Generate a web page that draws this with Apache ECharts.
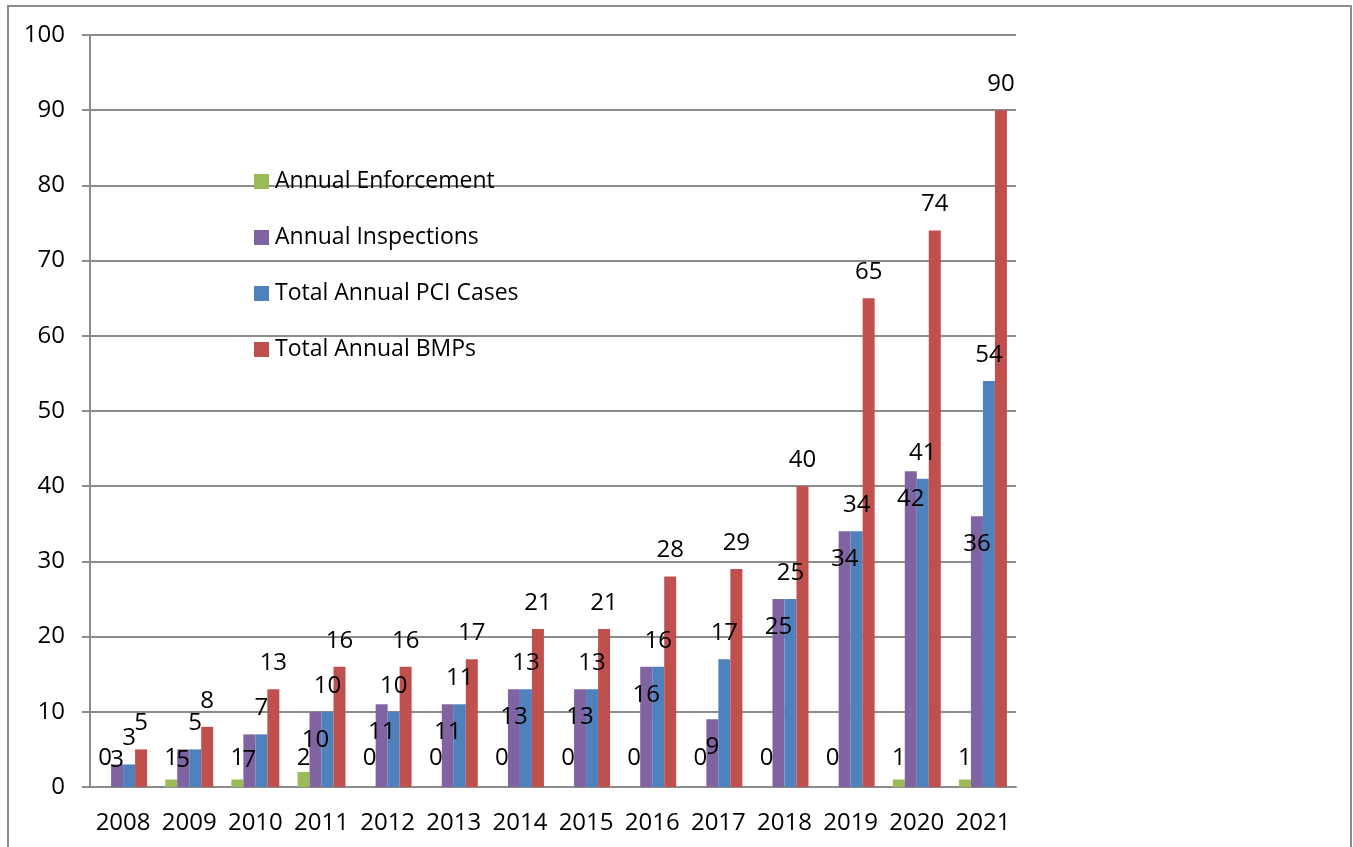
<!DOCTYPE html>
<html>
<head>
<meta charset="utf-8">
<script src="https://cdn.jsdelivr.net/npm/echarts@6/dist/echarts.min.js"></script>
<style>
  html, body { margin: 0; padding: 0; background: #fff; }
  #chart { width: 1353px; height: 847px; }
</style>
</head>
<body>
<div id="chart"></div>
<script>
// chart data
const years = ['2008', '2009', '2010', '2011', '2012', '2013', '2014', '2015', '2016', '2017', '2018', '2019', '2020', '2021'];
const enforcement = [0, 1, 1, 2, 0, 0, 0, 0, 0, 0, 0, 0, 1, 1];
const inspections = [3, 5, 7, 10, 11, 11, 13, 13, 16, 9, 25, 34, 42, 36];
const pciCases = [3, 5, 7, 10, 10, 11, 13, 13, 16, 17, 25, 34, 41, 54];
const bmps = [5, 8, 13, 16, 16, 17, 21, 21, 28, 29, 40, 65, 74, 90];
const yTicks = [0, 10, 20, 30, 40, 50, 60, 70, 80, 90, 100];

const chart = echarts.init(document.getElementById('chart'));

const FONT = 'Open Sans';
const labelBase = { show: true, color: '#000', fontFamily: FONT, fontSize: 24 };
const gray = '#8c8c8c';

// Excel-style label placement: inspection labels sit inside the bar top,
// short bars get them pushed up from the axis instead
const inspectionData = inspections.map(v => v <= 7
  ? { value: v, label: { position: 'insideBottom', distance: 15 } }
  : v);

const option = {
  backgroundColor: '#fff',
  animation: false,
  textStyle: { fontFamily: FONT },
  graphic: [{
    type: 'rect',
    shape: { x: 8, y: 6, width: 1343, height: 900 },
    style: { fill: 'none', stroke: gray, lineWidth: 2 }
  }],
  legend: {
    orient: 'vertical',
    left: 249,
    top: 165,
    itemWidth: 15,
    itemHeight: 15,
    itemGap: 33,
    icon: 'rect',
    textStyle: { fontFamily: FONT, fontSize: 23, color: '#000', padding: [0, 0, 0, 1] },
    data: ['Annual Enforcement', 'Annual Inspections', 'Total Annual PCI Cases', 'Total Annual BMPs']
  },
  grid: { left: 90, right: 337, top: 35, bottom: 60 },
  xAxis: {
    type: 'category',
    data: years,
    axisLine: { lineStyle: { color: gray, width: 2 } },
    axisTick: { length: 8, lineStyle: { color: gray, width: 2 } },
    axisLabel: { color: '#000', fontFamily: FONT, fontSize: 24, margin: 24, interval: 0 }
  },
  yAxis: {
    type: 'value',
    min: yTicks[0],
    max: yTicks[yTicks.length - 1],
    interval: 10,
    axisLine: { show: true, lineStyle: { color: gray, width: 2 } },
    axisTick: { show: true, length: 8, lineStyle: { color: gray, width: 2 } },
    splitLine: { lineStyle: { color: gray, width: 2 } },
    axisLabel: { color: '#000', fontFamily: FONT, fontSize: 24, margin: 25 }
  },
  series: [
    {
      name: 'Annual Enforcement',
      type: 'bar',
      barWidth: 12,
      barGap: '0%',
      data: enforcement,
      itemStyle: { color: '#9bbb59' },
      label: Object.assign({}, labelBase, { position: 'insideBottom', distance: 17 })
    },
    {
      name: 'Annual Inspections',
      type: 'bar',
      barWidth: 12,
      barGap: '0%',
      data: inspectionData,
      itemStyle: { color: '#8064a2' },
      label: Object.assign({}, labelBase, { position: 'insideTop', distance: 16 })
    },
    {
      name: 'Total Annual PCI Cases',
      type: 'bar',
      barWidth: 12,
      barGap: '0%',
      data: pciCases,
      itemStyle: { color: '#4f81bd' },
      label: Object.assign({}, labelBase, { position: 'top', distance: 14 })
    },
    {
      name: 'Total Annual BMPs',
      type: 'bar',
      barWidth: 12,
      barGap: '0%',
      data: bmps,
      itemStyle: { color: '#c0504d' },
      label: Object.assign({}, labelBase, { position: 'top', distance: 14 })
    }
  ]
};

chart.setOption(option);
</script>
</body>
</html>
